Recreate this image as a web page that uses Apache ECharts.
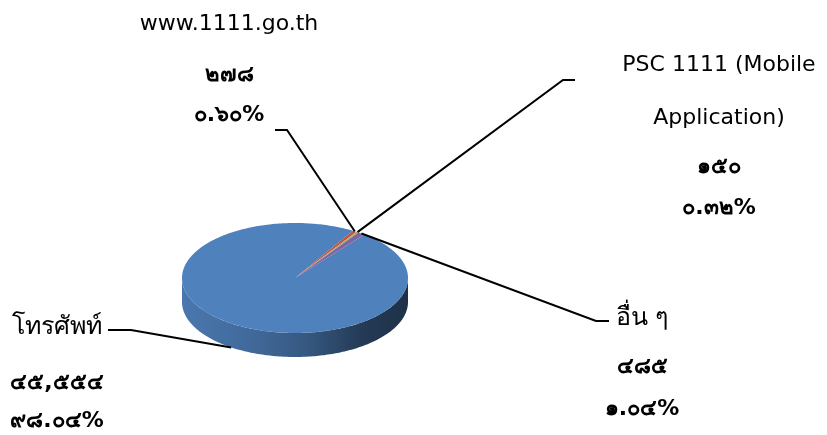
<!DOCTYPE html>
<html>
<head>
<meta charset="utf-8">
<script src="https://cdn.jsdelivr.net/npm/echarts@6/dist/echarts.min.js"></script>
<style>
  html, body { margin: 0; padding: 0; background: #ffffff; }
  #chart { width: 827px; height: 435px; }
</style>
</head>
<body>
<div id="chart"></div>
<script>
// Complaint channels and their counts
const categories = ['โทรศัพท์', 'www.1111.go.th', 'PSC 1111 (Mobile Application)', 'อื่น ๆ'];
const counts = [45554, 278, 150, 485];
const sliceColors = ['#4F81BD', '#C0504D', '#9BBB59', '#8064A2'];

const total = counts.reduce((a, b) => a + b, 0);
const thaiDigits = s => String(s).replace(/[0-9]/g, d => String.fromCharCode(0x0E50 + Number(d)));
const fmtCount = v => thaiDigits(v.toLocaleString('en-US'));
const fmtPct = v => thaiDigits((v / total * 100).toFixed(2)) + '%';

// Tilted disc drawn as an ellipse with a visible rim
const PIE = { cx: 295, cy: 278, rx: 113, ry: 55, depth: 24, start: 37.9 };
const FONT_FAMILY = "'DejaVu Sans', 'Noto Sans', sans-serif";
const FONT_SIZE = 22;
const THAI_NAME_SIZE = 25;

// Label blocks: centre x, y of each text line, leader elbow and end, anchor on rim base or top
const LABEL_LAYOUT = [
  { x: 57,  nameY: [327],     valueY: 383, pctY: 421, elbow: [131, 330], end: [108, 330], base: true },
  { x: 229, nameY: [24],      valueY: 75,  pctY: 115, elbow: [287, 130], end: [275, 130], base: false },
  { x: 719, nameY: [65, 118], valueY: 167, pctY: 208, elbow: [563, 80],  end: [575, 80],  base: false },
  { x: 642, nameY: [318],     valueY: 367, pctY: 409, elbow: [596, 321], end: [609, 321], base: false }
];
const NAME_LINES = [null, null, ['PSC 1111 (Mobile', 'Application)'], null];

// cumulative start angles (degrees, clockwise from 12 o'clock)
const startAngles = [];
(function () {
  let acc = PIE.start;
  counts.forEach(v => { startAngles.push(acc); acc += v / total * 360; });
})();

function rimPoint(deg, dy) {
  const r = deg * Math.PI / 180;
  return [PIE.cx + PIE.rx * Math.sin(r), PIE.cy - PIE.ry * Math.cos(r) + (dy || 0)];
}
function arcPoints(a0, a1, dy) {
  const pts = [];
  const n = Math.max(6, Math.ceil(Math.abs(a1 - a0) / 1));
  for (let i = 0; i <= n; i++) pts.push(rimPoint(a0 + (a1 - a0) * i / n, dy));
  return pts;
}
function shade(hex, k) {
  const n = parseInt(hex.slice(1), 16);
  const c = [(n >> 16) & 255, (n >> 8) & 255, n & 255].map(v => Math.round(v * k));
  return 'rgb(' + c.join(',') + ')';
}

function renderSlice(params, api) {
  const i = params.dataIndex;
  const value = api.value(0);
  const a0 = startAngles[i];
  const a1 = a0 + value / total * 360;
  const color = sliceColors[i];
  const children = [];

  // front rim: the part of the slice between 90° and 270° (mod 360)
  for (let k = 0; k <= 1; k++) {
    const lo = Math.max(a0, 90 + 360 * k);
    const hi = Math.min(a1, 270 + 360 * k);
    if (hi > lo) {
      const top = arcPoints(lo, hi, 0);
      const bottom = arcPoints(hi, lo, PIE.depth);
      children.push({
        type: 'polygon',
        z2: 1,
        shape: { points: top.concat(bottom) },
        style: {
          fill: new echarts.graphic.LinearGradient(0, 0, 1, 0, [
            { offset: 0, color: shade(color, 0.92) },
            { offset: 0.3, color: shade(color, 0.82) },
            { offset: 0.55, color: shade(color, 0.68) },
            { offset: 0.8, color: shade(color, 0.45) },
            { offset: 1, color: shade(color, 0.38) }
          ])
        }
      });
    }
  }

  // top face sector
  children.push({
    type: 'polygon',
    z2: 2,
    shape: { points: [[PIE.cx, PIE.cy]].concat(arcPoints(a0, a1, 0)) },
    style: { fill: color }
  });

  // leader line and label
  const lay = LABEL_LAYOUT[i];
  const mid = (a0 + a1) / 2;
  const anchor = rimPoint(mid, lay.base ? PIE.depth : 0);
  children.push({
    type: 'polyline',
    z2: 5,
    shape: { points: [anchor, lay.elbow, lay.end] },
    style: { stroke: '#000000', lineWidth: 2, fill: null }
  });
  const nameLines = NAME_LINES[i] || [categories[i]];
  const nameSize = /[\u0E00-\u0E7F]/.test(categories[i]) ? THAI_NAME_SIZE : FONT_SIZE;
  nameLines.forEach((t, j) => {
    children.push({
      type: 'text', z2: 6,
      style: { x: lay.x, y: lay.nameY[j], text: t, fill: '#000000',
               font: nameSize + 'px ' + FONT_FAMILY, align: 'center', verticalAlign: 'middle' }
    });
  });
  children.push({
    type: 'text', z2: 6,
    style: { x: lay.x, y: lay.valueY, text: fmtCount(value), fill: '#000000',
             font: 'bold ' + FONT_SIZE + 'px ' + FONT_FAMILY, align: 'center', verticalAlign: 'middle' }
  });
  children.push({
    type: 'text', z2: 6,
    style: { x: lay.x, y: lay.pctY, text: fmtPct(value), fill: '#000000',
             font: 'bold ' + FONT_SIZE + 'px ' + FONT_FAMILY, align: 'center', verticalAlign: 'middle' }
  });

  return { type: 'group', children: children };
}

const chart = echarts.init(document.getElementById('chart'), null, { renderer: 'canvas' });
chart.setOption({
  animation: false,
  backgroundColor: '#ffffff',
  series: [{
    type: 'custom',
    coordinateSystem: 'none',
    renderItem: renderSlice,
    data: counts.map((v, i) => ({ name: categories[i], value: [v] }))
  }]
});
</script>
</body>
</html>
